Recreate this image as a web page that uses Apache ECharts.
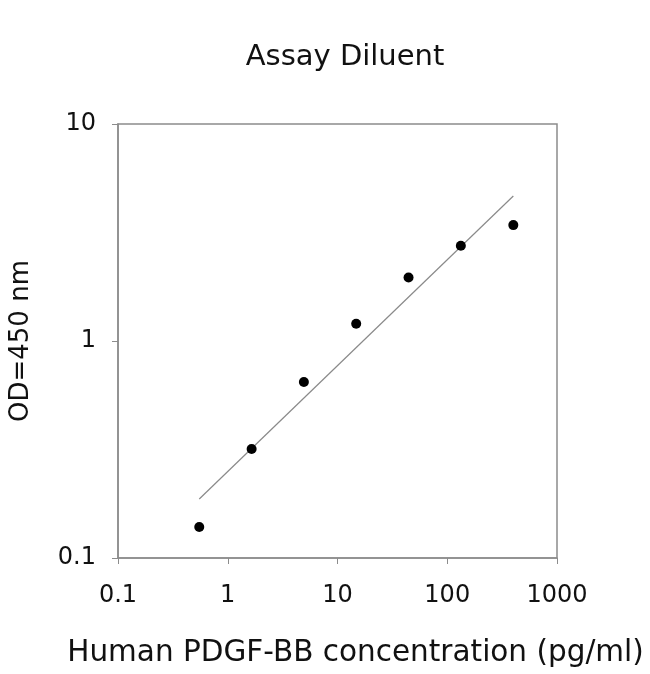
<!DOCTYPE html>
<html>
<head>
<meta charset="utf-8">
<script src="https://cdn.jsdelivr.net/npm/echarts@6/dist/echarts.min.js"></script>
<style>
html,body{margin:0;padding:0;background:#fff;}
#c{width:650px;height:674px;}
</style>
</head>
<body>
<div id="c"></div>
<script>
const concentration = [0.55, 1.65, 4.94, 14.8, 44.4, 133, 400];
const od450 = [0.139, 0.318, 0.647, 1.20, 1.96, 2.75, 3.42];
const fitX = [0.55, 400];
const fitY = [0.187, 4.66];
const xTickLabels = ['0.1', '1', '10', '100', '1000'];
const yTickLabels = ['0.1', '1', '10'];

const chart = echarts.init(document.getElementById('c'));
const font = 'DejaVu Sans';
const axisGray = '#8c8c8c';

function fmt(v, labels) {
  const s = String(+v.toPrecision(3));
  return labels.includes(s) ? s : '';
}

chart.setOption({
  backgroundColor: '#fff',
  animation: false,
  title: {
    text: 'Assay Diluent',
    left: 340,
    top: 38,
    textAlign: 'center',
    textStyle: { fontFamily: font, fontSize: 29, fontWeight: 'normal', color: '#111' }
  },
  grid: {
    left: 117, right: 93, top: 124, bottom: 116,
    show: true, borderColor: axisGray, borderWidth: 1.5
  },
  xAxis: {
    type: 'log', logBase: 10, min: 0.1, max: 1000, interval: 1,
    name: 'Human PDGF-BB concentration (pg/ml)',
    nameLocation: 'middle', nameGap: 80,
    nameTextStyle: { fontFamily: font, fontSize: 29.5, color: '#111', padding: [0, 0, 0, 36] },
    axisLine: { show: true, lineStyle: { color: axisGray, width: 1.5 } },
    axisTick: { show: true, length: 6, lineStyle: { color: axisGray } },
    minorTick: { show: false },
    splitLine: { show: false },
    axisLabel: {
      fontFamily: font, fontSize: 24, color: '#111', margin: 26,
      formatter: v => fmt(v, xTickLabels)
    }
  },
  yAxis: {
    type: 'log', logBase: 10, min: 0.1, max: 10, interval: 1,
    name: 'OD=450 nm',
    nameLocation: 'middle', nameGap: 84, nameRotate: 90,
    nameTextStyle: { fontFamily: font, fontSize: 26, color: '#111' },
    axisLine: { show: true, lineStyle: { color: axisGray, width: 1.5 } },
    axisTick: { show: true, length: 6, lineStyle: { color: axisGray } },
    minorTick: { show: false },
    splitLine: { show: false },
    axisLabel: {
      fontFamily: font, fontSize: 24, color: '#111', margin: 22,
      formatter: v => fmt(v, yTickLabels)
    }
  },
  series: [
    {
      type: 'line',
      data: fitX.map((x, i) => [x, fitY[i]]),
      showSymbol: false,
      symbol: 'none',
      lineStyle: { color: '#8a8a8a', width: 1.2 },
      silent: true,
      z: 1
    },
    {
      type: 'scatter',
      data: concentration.map((x, i) => [x, od450[i]]),
      symbol: 'circle',
      symbolSize: 10,
      itemStyle: { color: '#000', opacity: 1 },
      z: 2
    }
  ]
});
</script>
</body>
</html>
